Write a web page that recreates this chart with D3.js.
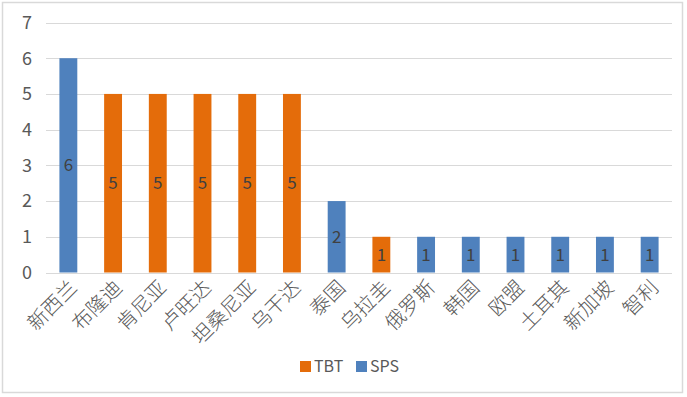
<!DOCTYPE html>
<html>
<head>
<meta charset="utf-8">
<script src="https://cdn.jsdelivr.net/npm/d3@7"></script>
<style>
  body { margin: 0; background: #fff; }
  text { font-family: "Noto Sans CJK SC", "DejaVu Sans", sans-serif; }
</style>
</head>
<body>
<div class="chart"></div>
<script>
// values
var countries = ["新西兰", "布隆迪", "肯尼亚", "卢旺达", "坦桑尼亚", "乌干达", "泰国", "乌拉圭", "俄罗斯", "韩国", "欧盟", "土耳其", "新加坡", "智利"];
var values = [6, 5, 5, 5, 5, 5, 2, 1, 1, 1, 1, 1, 1, 1];
var types = ["SPS", "TBT", "TBT", "TBT", "TBT", "TBT", "SPS", "TBT", "SPS", "SPS", "SPS", "SPS", "SPS", "SPS"];
var seriesNames = ["TBT", "SPS"];
var yTicks = [0, 1, 2, 3, 4, 5, 6, 7];

var width = 687, height = 397;
var colors = { TBT: "#E46C0A", SPS: "#4F81BD" };

var svg = d3.select(".chart").append("svg").attr("width", width).attr("height", height);

svg.append("rect").attr("x", 2.5).attr("y", 2.5).attr("width", 680).attr("height", 390)
  .attr("fill", "#fff").attr("stroke", "#d9d9d9").attr("stroke-width", 1.5);

var x = d3.scaleBand().domain(countries).range([46, 672]).paddingInner(0.6).paddingOuter(0.3);
var y = d3.scaleLinear().domain([0, 7]).range([272.5, 22.5]);

var data = countries.map(function(c, i) { return { name: c, value: values[i], type: types[i] }; });

// gridlines
svg.append("g").selectAll("line").data(yTicks).enter().append("line")
  .attr("x1", 46).attr("x2", 672)
  .attr("y1", function(d) { return Math.round(y(d)) + 0.5; })
  .attr("y2", function(d) { return Math.round(y(d)) + 0.5; })
  .attr("stroke", "#d9d9d9").attr("stroke-width", 1);

// y tick labels
svg.append("g").selectAll("text").data(yTicks).enter().append("text")
  .attr("x", 32).attr("y", function(d) { return y(d); })
  .attr("dy", "0.35em").attr("text-anchor", "end")
  .attr("font-size", 18).attr("fill", "#595959")
  .text(function(d) { return d; });

// bars
svg.append("g").selectAll("rect").data(data).enter().append("rect")
  .attr("x", function(d) { return x(d.name); })
  .attr("y", function(d) { return y(d.value); })
  .attr("width", x.bandwidth())
  .attr("height", function(d) { return y(0) - y(d.value); })
  .attr("fill", function(d) { return colors[d.type]; });

// value labels
svg.append("g").selectAll("text").data(data).enter().append("text")
  .attr("x", function(d) { return x(d.name) + x.bandwidth() / 2; })
  .attr("y", function(d) { return (y(0) + y(d.value)) / 2; })
  .attr("dy", "0.35em").attr("text-anchor", "middle")
  .attr("font-size", 17).attr("fill", "#404040")
  .text(function(d) { return d.value; });

// category labels
svg.append("g").selectAll("text").data(data).enter().append("text")
  .attr("transform", function(d) {
    return "translate(" + (x(d.name) + x.bandwidth() / 2 + 5) + ",284) rotate(-45)";
  })
  .attr("text-anchor", "end").attr("dy", "0.35em")
  .attr("font-size", 20).attr("font-weight", 300).attr("fill", "#595959")
  .text(function(d) { return d.name; });

// legend
var legend = svg.append("g").selectAll("g").data(seriesNames).enter().append("g")
  .attr("transform", function(d, i) { return "translate(" + (300 + i * 56) + ",361)"; });
legend.append("rect").attr("width", 11).attr("height", 11)
  .attr("fill", function(d) { return colors[d]; });
legend.append("text").attr("x", 14).attr("y", 5.5).attr("dy", "0.36em")
  .attr("font-size", 16).attr("fill", "#595959")
  .text(function(d) { return d; });
</script>
</body>
</html>
